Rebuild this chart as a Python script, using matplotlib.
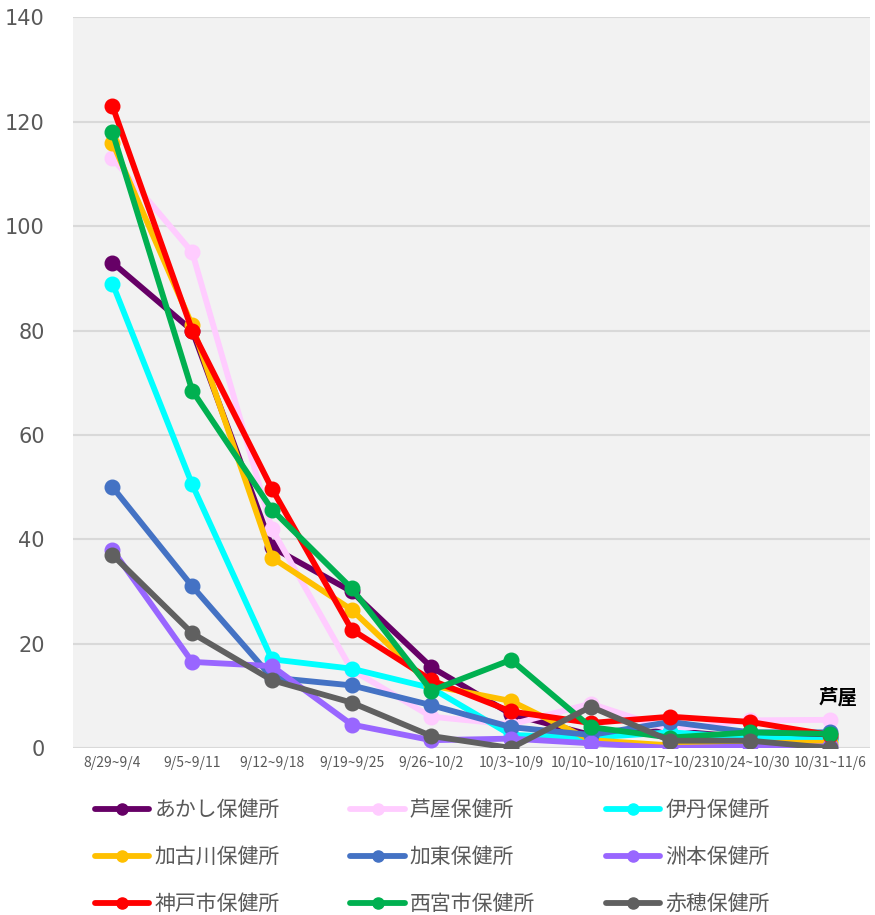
import matplotlib
matplotlib.use("Agg")
import matplotlib.pyplot as plt

plt.rcParams['font.family'] = ['Noto Sans CJK JP', 'DejaVu Sans']

weeks = ["8/29~9/4", "9/5~9/11", "9/12~9/18", "9/19~9/25", "9/26~10/2",
         "10/3~10/9", "10/10~10/16", "10/17~10/23", "10/24~10/30", "10/31~11/6"]

names = ["あかし保健所", "芦屋保健所", "伊丹保健所", "加古川保健所", "加東保健所",
         "洲本保健所", "神戸市保健所", "西宮市保健所", "赤穂保健所"]

akashi = [93, 80, 38.5, 30, 15.5, 6.5, 2.5, 3.3, 2, 2]
ashiya = [113, 95, 42, 15, 6, 4.5, 8.5, 3.5, 5.3, 5.4]
itami = [89, 50.5, 17, 15.2, 11.5, 2.5, 2, 3, 2, 1.5]
kakogawa = [116, 81, 36.5, 26.5, 12, 9, 1.5, 0.5, 1, 1]
kato = [50, 31, 13.5, 12, 8.2, 4, 2.5, 5, 3, 3]
sumoto = [38, 16.5, 15.7, 4.5, 1.5, 1.8, 0.9, 0, 0.3, 0.3]
kobe = [123, 80, 49.7, 22.7, 13, 7, 4.8, 6, 5, 2.5]
nishinomiya = [118, 68.5, 45.7, 30.6, 11, 16.9, 4, 2, 3, 2.7]
ako = [37, 22, 13, 8.7, 2.3, 0, 7.9, 1.4, 1.4, 0]

series = [akashi, ashiya, itami, kakogawa, kato, sumoto, kobe, nishinomiya, ako]
colors = ["#660066", "#FFCCFF", "#00FFFF", "#FFC000", "#4472C4",
          "#9966FF", "#FF0000", "#00B050", "#606060"]

yticks = [0, 20, 40, 60, 80, 100, 120, 140]
annot_text = "芦屋"

fig = plt.figure(figsize=(8.75, 9.15), dpi=100)
ax = fig.add_axes([0.083, 0.1825, 0.911, 0.7985])
ax.set_facecolor("#F2F2F2")

x = list(range(len(weeks)))
handles = []
for name, vals, c in zip(names, series, colors):
    h, = ax.plot(x, vals, color=c, lw=4.2, marker="o", markersize=10.5,
                 solid_capstyle="round", label=name, zorder=3)
    handles.append(h)

ax.set_xlim(-0.5, len(weeks) - 0.5)
ax.set_ylim(0, 140)
ax.set_yticks(yticks)
ax.set_yticklabels([str(v) for v in yticks], fontsize=15, color="#595959",
                   family=['DejaVu Sans'])
ax.set_xticks(x)
ax.set_xticklabels(weeks, fontsize=10, color="#595959")
ax.tick_params(axis="both", length=0)
ax.tick_params(axis="y", pad=20)
ax.tick_params(axis="x", pad=6)
ax.grid(axis="y", color="#D9D9D9", lw=1.5, zorder=0)
ax.set_axisbelow(True)
for s in ax.spines.values():
    s.set_visible(False)

ax.annotate(annot_text, xy=(x[-1], ashiya[-1]), xytext=(6, 16),
            textcoords="offset points", ha="center", va="center",
            fontsize=14, fontweight="bold", color="black")

order = [handles[i] for i in (0, 3, 6, 1, 4, 7, 2, 5, 8)]
leg = fig.legend(order, [h.get_label() for h in order], ncol=3,
                 loc="upper left", bbox_to_anchor=(0.1086, 0.1268),
                 borderaxespad=0, borderpad=0,
                 frameon=False, fontsize=15, handlelength=2.6,
                 columnspacing=3.4, labelspacing=1.2, handletextpad=0.25)
for t in leg.get_texts():
    t.set_color("#595959")
for lh in leg.legend_handles:
    lh.set_markersize(8)

fig.savefig("out.png", dpi=100, facecolor="white")
